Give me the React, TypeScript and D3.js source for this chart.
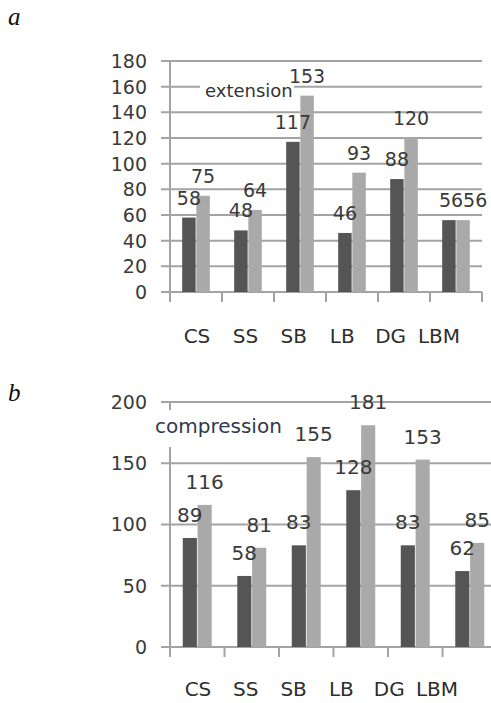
import * as d3 from "d3";

const categories = ["CS", "SS", "SB", "LB", "DG", "LBM"];

// panel a: extension
const extensionDark = [58, 48, 117, 46, 88, 56];
const extensionLight = [75, 64, 153, 93, 120, 56];
const extensionTicks = [0, 20, 40, 60, 80, 100, 120, 140, 160, 180];

// panel b: compression
const compressionDark = [89, 58, 83, 128, 83, 62];
const compressionLight = [116, 81, 155, 181, 153, 85];
const compressionTicks = [0, 50, 100, 150, 200];

const DARK = "#555555";
const LIGHT = "#a9a9a9";
const GRID = "#a3a3a3";
const TEXT = "#3a3a3a";
const FONT = "DejaVu Sans, sans-serif";

interface PanelProps {
  letter: string;
  title: string;
  titleColor: string;
  dark: number[];
  light: number[];
  ticks: number[];
  layout: {
    x0: number;
    x1: number;
    yTop: number;
    yBottom: number;
    letterY: number;
    catBaseline: number;
    catRange: [number, number];
    titleX: number;
    titleY: number;
    titleSize: number;
    titleBg: [number, number, number, number];
    dataSize: number;
    labelGap: number;
  };
}

const Panel = ({ letter, title, titleColor, dark, light, ticks, layout }: PanelProps) => {
  const L = layout;
  const x = d3.scaleBand().domain(categories).range([L.x0, L.x1]).padding(0);
  const inner = d3
    .scaleBand()
    .domain(["dark", "light"])
    .range([0, x.bandwidth()])
    .paddingInner(0.05)
    .paddingOuter(0.86);
  const y = d3
    .scaleLinear()
    .domain([0, ticks[ticks.length - 1]])
    .range([L.yBottom, L.yTop]);
  // category labels sit a bit tighter than the bands in the original
  const catX = d3.scalePoint().domain(categories).range(L.catRange);
  const bw = inner.bandwidth();
  const boundaries = [...categories.map((c) => x(c)!), L.x1];

  return (
    <g>
      <text
        x={8}
        y={L.letterY}
        fontFamily="Liberation Serif, serif"
        fontStyle="italic"
        fontSize={25}
        fill="#111"
      >
        {letter}
      </text>

      {/* grid lines with small ticks left of the axis */}
      {ticks.map((t) => (
        <line
          key={`g${t}`}
          x1={L.x0 - 9}
          x2={L.x1}
          y1={y(t)}
          y2={y(t)}
          stroke={GRID}
          strokeWidth={2}
        />
      ))}
      {ticks.map((t) => (
        <text
          key={`t${t}`}
          x={L.x0 - 23}
          y={y(t)}
          dy="0.36em"
          textAnchor="end"
          fontFamily={FONT}
          fontSize={19}
          fill={TEXT}
        >
          {t}
        </text>
      ))}
      <line x1={L.x0} x2={L.x0} y1={L.yTop} y2={L.yBottom + 10} stroke={GRID} strokeWidth={2} />
      {boundaries.map((b, i) => (
        <line key={`xt${i}`} x1={b} x2={b} y1={L.yBottom} y2={L.yBottom + 10} stroke={GRID} strokeWidth={2} />
      ))}

      {/* title box */}
      <rect
        x={L.titleBg[0]}
        y={L.titleBg[1]}
        width={L.titleBg[2]}
        height={L.titleBg[3]}
        fill="#fff"
      />
      <text x={L.titleX} y={L.titleY} fontFamily={FONT} fontSize={L.titleSize} fill={titleColor}>
        {title}
      </text>

      {/* bars */}
      {categories.map((c, i) => (
        <g key={c} transform={`translate(${x(c)},0)`}>
          <rect x={inner("dark")} y={y(dark[i])} width={bw} height={L.yBottom - y(dark[i])} fill={DARK} />
          <rect x={inner("light")} y={y(light[i])} width={bw} height={L.yBottom - y(light[i])} fill={LIGHT} />
        </g>
      ))}

      {/* value labels */}
      {categories.map((c, i) => {
        const dx = x(c)! + inner("dark")! + bw / 2;
        const lx = x(c)! + inner("light")! + bw / 2;
        const clash = Math.abs(y(dark[i]) - y(light[i])) < L.dataSize * 0.8;
        return (
          <g key={`l${c}`} fontFamily={FONT} fontSize={L.dataSize} fill={TEXT}>
            <text
              x={clash ? lx : dx}
              y={y(dark[i]) - L.labelGap}
              textAnchor={clash ? "end" : "middle"}
            >
              {dark[i]}
            </text>
            <text
              x={lx}
              y={y(light[i]) - L.labelGap}
              textAnchor={clash ? "start" : "middle"}
            >
              {light[i]}
            </text>
          </g>
        );
      })}

      {categories.map((c) => (
        <text
          key={`c${c}`}
          x={catX(c)}
          y={L.catBaseline}
          textAnchor="middle"
          fontFamily={FONT}
          fontSize={20}
          fill="#2e2e2e"
        >
          {c}
        </text>
      ))}
    </g>
  );
};

const App = () => {
  return (
    <svg
      width={491}
      height={703}
      style={{ position: "absolute", left: 0, top: 0, background: "#fff" }}
    >
      <rect width={491} height={703} fill="#fff" />
      <Panel
        letter="a"
        title="extension"
        titleColor="#333"
        dark={extensionDark}
        light={extensionLight}
        ticks={extensionTicks}
        layout={{
          x0: 170,
          x1: 482,
          yTop: 61,
          yBottom: 292,
          letterY: 25,
          catBaseline: 343,
          catRange: [197, 439],
          titleX: 205,
          titleY: 97,
          titleSize: 18,
          titleBg: [200, 80, 94, 22],
          dataSize: 19,
          labelGap: 13,
        }}
      />
      <Panel
        letter="b"
        title="compression"
        titleColor="#2f3a4c"
        dark={compressionDark}
        light={compressionLight}
        ticks={compressionTicks}
        layout={{
          x0: 170,
          x1: 497,
          yTop: 402,
          yBottom: 647,
          letterY: 401,
          catBaseline: 696,
          catRange: [198, 437],
          titleX: 155,
          titleY: 433,
          titleSize: 20,
          titleBg: [152, 410, 138, 37],
          dataSize: 20,
          labelGap: 16,
        }}
      />
    </svg>
  );
};

export default App;
